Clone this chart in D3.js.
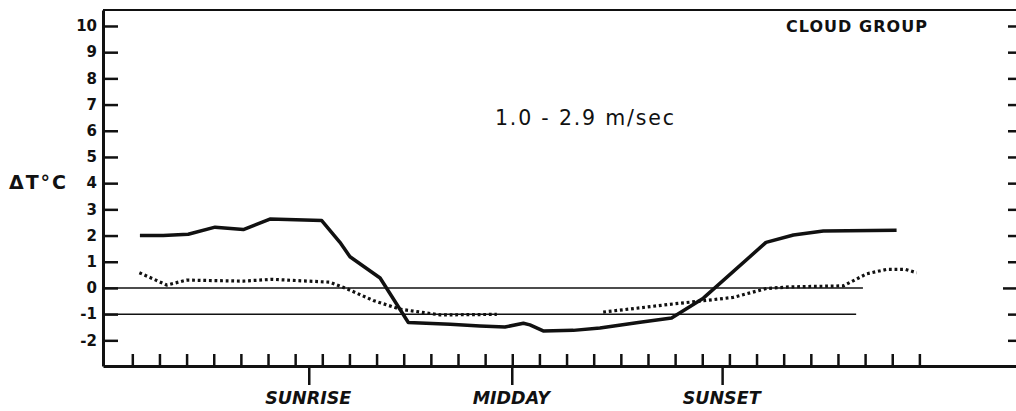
<!DOCTYPE html>
<html><head><meta charset="utf-8">
<script src="https://cdn.jsdelivr.net/npm/d3@7"></script>
<style>body{margin:0;background:#fff}svg{display:block}</style>
</head><body>
<svg id="c" width="1016" height="411"></svg>
<script>
// hourly tick positions along the time axis
const tickHours = d3.range(0, 30);
// y axis tick values (°C)
const yTicks = d3.range(-2, 11);
// day events (hour index)
const eventNames = ["SUNRISE", "MIDDAY", "SUNSET"];
const eventHours = [6.52, 14, 21.75];
// solid curve
const solidHours = [0.28, 1.14, 2.06, 3.05, 4.09, 5.07, 6.98, 7.65, 8.02, 9.13, 10.17, 11.71, 12.81, 13.73, 14.41, 14.65, 15.14, 16.25, 17.23, 18.71, 19.87, 21.04, 23.35, 24.36, 25.46, 28.16];
const solidValues = [2.0, 2.0, 2.05, 2.32, 2.23, 2.63, 2.57, 1.74, 1.19, 0.38, -1.32, -1.39, -1.45, -1.49, -1.35, -1.41, -1.64, -1.62, -1.53, -1.31, -1.15, -0.39, 1.74, 2.02, 2.17, 2.2];
// dotted curve (null = hidden under the -1 reference line)
const dotHours = [0.26, 1.27, 2.0, 4.09, 5.14, 5.69, 7.28, 7.9, 8.88, 9.86, 11.34, 13.43, 15.4, 17.35, 18.71, 19.93, 21.04, 22.14, 23.37, 24.23, 26.2, 27.06, 27.8, 28.48, 28.9];
const dotValues = [0.58, 0.11, 0.3, 0.26, 0.33, 0.3, 0.22, -0.03, -0.48, -0.81, -1.03, -1.01, null, -0.92, -0.76, -0.61, -0.49, -0.36, -0.02, 0.04, 0.08, 0.54, 0.71, 0.71, 0.58];
// reference lines
const refLevels = [0, -1];
const refEndHours = [26.92, 26.67];
const speedLabel = "1.0 - 2.9 m/sec";
const groupLabel = "CLOUD GROUP";
const yLabel = "\u0394T\u00b0C";

const svg = d3.select("#c");
const ink = "#111";
const font = "'DejaVu Sans', Verdana, sans-serif";
const x = d3.scaleLinear().domain([-1.08, 32.56]).range([103, 1016]);
const y = d3.scaleLinear().domain([-2.98, 10.61]).range([366, 10]);
const [xl, xr] = x.range();
const [yb, yt] = y.range();

// top border
svg.append("line").attr("x1", xl).attr("x2", xr).attr("y1", yt).attr("y2", yt)
  .attr("stroke", ink).attr("stroke-width", 2);

// reference lines
refLevels.forEach((lv, i) => {
  svg.append("line").attr("x1", xl).attr("x2", x(refEndHours[i]))
    .attr("y1", y(lv)).attr("y2", y(lv))
    .attr("stroke", ink).attr("stroke-width", 1.5);
});

// left axis
const gl = svg.append("g").attr("transform", `translate(${xl},0)`)
  .call(d3.axisLeft(y).tickValues(yTicks).tickSize(-15).tickSizeOuter(0).tickPadding(6).tickFormat(d => String(d)));
gl.select(".domain").attr("stroke", ink).attr("stroke-width", 3);
gl.selectAll(".tick line").attr("stroke", ink).attr("stroke-width", 2.5);
gl.selectAll(".tick text").attr("fill", ink).attr("font-family", font)
  .attr("font-size", 15).attr("font-weight", "bold");

// right ticks
const gr = svg.append("g").attr("transform", `translate(${xr},0)`)
  .call(d3.axisLeft(y).tickValues(yTicks).tickSize(8).tickSizeOuter(0).tickFormat(""));
gr.select(".domain").remove();
gr.selectAll(".tick line").attr("stroke", ink).attr("stroke-width", 2.5)
  .attr("x2", d => d === 0 ? -13 : -8);

// bottom axis
const gb = svg.append("g").attr("transform", `translate(0,${yb})`)
  .call(d3.axisBottom(x).tickValues(tickHours).tickSize(-12).tickSizeOuter(0).tickFormat(""));
gb.select(".domain").attr("stroke", ink).attr("stroke-width", 3);
gb.selectAll(".tick line").attr("stroke", ink).attr("stroke-width", 2.5);

// event ticks and labels
eventHours.forEach((h, i) => {
  svg.append("line").attr("x1", x(h)).attr("x2", x(h)).attr("y1", yb).attr("y2", yb + 19)
    .attr("stroke", ink).attr("stroke-width", 2.5);
  svg.append("text").attr("x", x(h) - 1).attr("y", 404).attr("text-anchor", "middle")
    .attr("font-family", font).attr("font-size", 17.5)
    .attr("font-weight", "bold").attr("font-style", "italic").attr("fill", ink)
    .text(eventNames[i]);
});

// lines
const solid = solidHours.map((h, i) => [h, solidValues[i]]);
const dots = dotHours.map((h, i) => [h, dotValues[i]]);
const line = d3.line().defined(d => d[1] !== null).x(d => x(d[0])).y(d => y(d[1]));
svg.append("path").attr("d", line(solid)).attr("fill", "none").attr("stroke", ink)
  .attr("stroke-width", 3.5).attr("stroke-linejoin", "round");
svg.append("path").attr("d", line(dots)).attr("fill", "none").attr("stroke", ink)
  .attr("stroke-width", 3.2).attr("stroke-dasharray", "2.8,2.8");

// texts
svg.append("text").attr("x", 9).attr("y", 189).attr("textLength", 57).attr("lengthAdjust", "spacing")
  .attr("font-family", font).attr("font-size", 19).attr("font-weight", "bold")
  .attr("fill", ink).text(yLabel);
svg.append("text").attr("x", 786).attr("y", 32).attr("textLength", 141).attr("lengthAdjust", "spacing")
  .attr("font-family", font).attr("font-size", 16).attr("font-weight", "bold")
  .attr("fill", ink).text(groupLabel);
svg.append("text").attr("x", 495).attr("y", 125).attr("textLength", 179).attr("lengthAdjust", "spacing")
  .attr("font-family", font).attr("font-size", 20.5)
  .attr("fill", ink).text(speedLabel);
</script>
</body></html>
